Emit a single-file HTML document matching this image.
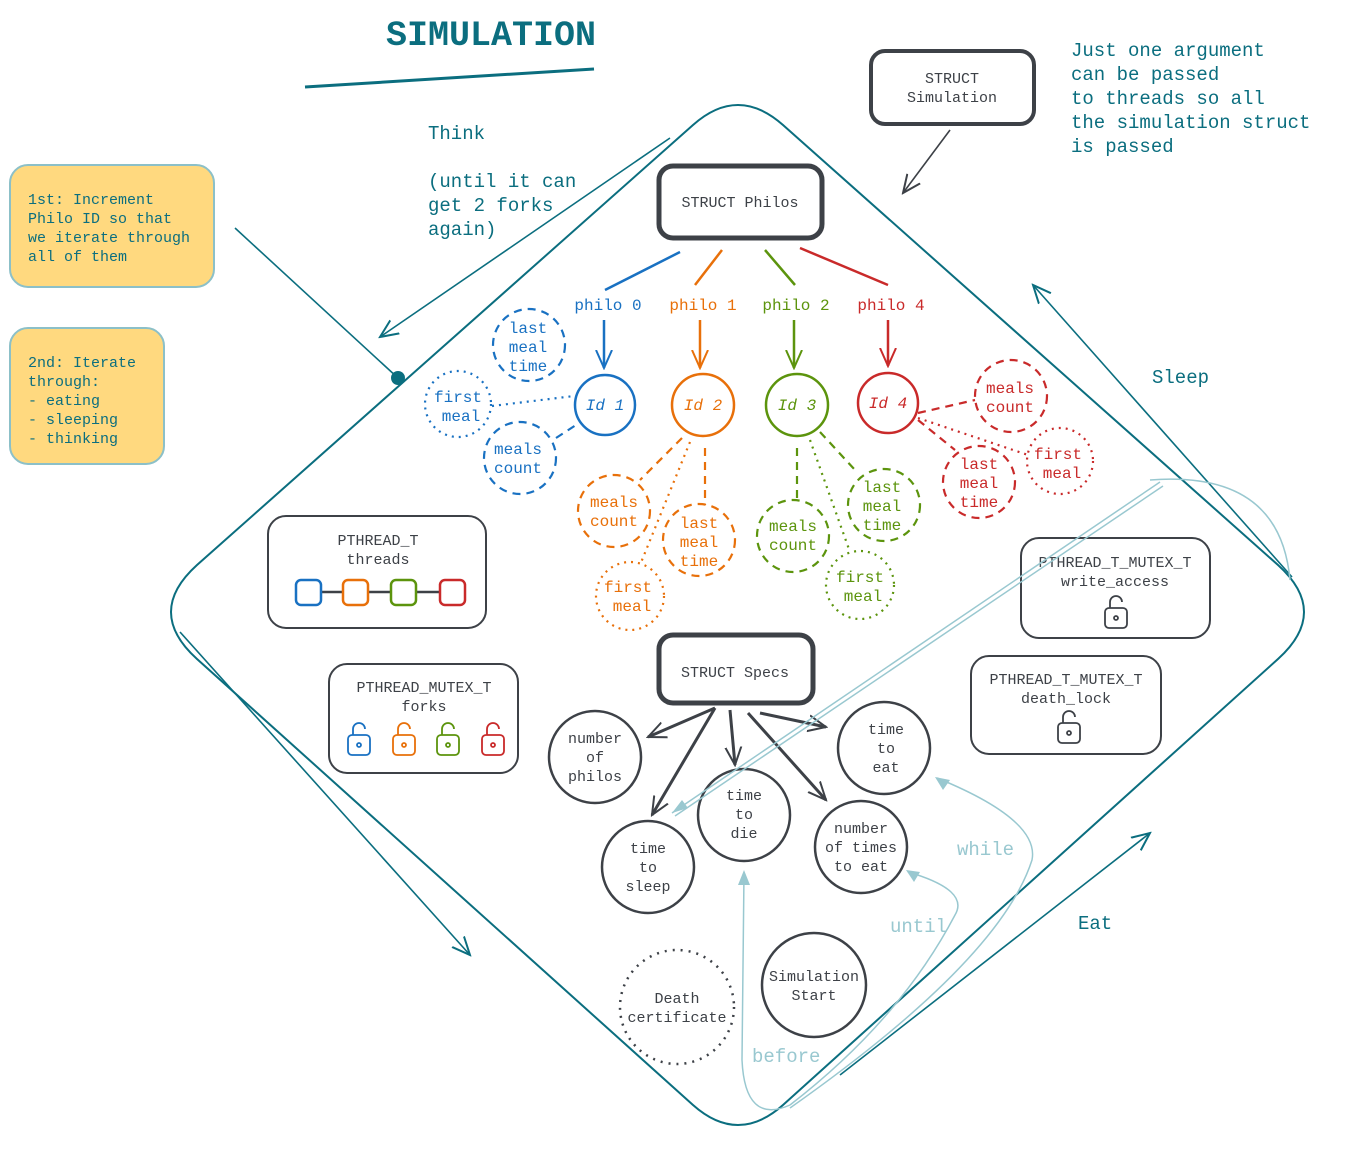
<!DOCTYPE html>
<html><head><meta charset="utf-8"><style>
html,body{margin:0;padding:0;background:#fff}
svg{display:block}
text{font-family:"Liberation Mono","DejaVu Sans Mono",monospace}
</style></head><body>
<svg width="1350" height="1165" viewBox="0 0 1350 1165" xmlns="http://www.w3.org/2000/svg">
<defs>
<marker id="ah" viewBox="0 0 20 20" refX="18" refY="10" markerWidth="20" markerHeight="20" markerUnits="userSpaceOnUse" orient="auto"><path d="M0,2 L18,10 L0,18" fill="none" stroke="context-stroke" stroke-width="2"/></marker>
</defs>
<rect width="1350" height="1165" fill="#fff"/>
<text x="491" y="45" font-size="35" font-weight="bold" fill="#0b6e7f" text-anchor="middle">SIMULATION</text>
<line x1="305" y1="87" x2="594" y2="69" stroke="#0b6e7f" stroke-width="3"/>
<path d="M693,125 Q738,85 783,125 L1278,565 Q1330,612 1278,659 L783,1105 Q738,1145 693,1105 L197,659 Q145,612 197,565 Z" fill="none" stroke="#0b6e7f" stroke-width="2"/>
<g stroke="#0b6e7f" stroke-width="1.6" fill="none">
<path d="M670,138 L380,337" marker-end="url(#ah)"/>
<path d="M235,228 L398,378"/>
<path d="M180,632 L470,955" marker-end="url(#ah)"/>
<path d="M840,1075 L1150,833" marker-end="url(#ah)"/>
<path d="M1292,577 L1033,285" marker-end="url(#ah)"/>
<path d="M950,130 L903,193" stroke="#3d4147" marker-end="url(#ah)"/>
</g>
<circle cx="398" cy="378" r="7" fill="#0b6e7f"/>
<g fill="#0b6e7f" font-size="19">
<text x="428" y="139">Think</text>
<text x="428" y="187">(until it can</text>
<text x="428" y="211">get 2 forks</text>
<text x="428" y="235">again)</text>
<text x="1071" y="56">Just one argument</text>
<text x="1071" y="80">can be passed</text>
<text x="1071" y="104">to threads so all</text>
<text x="1071" y="128">the simulation struct</text>
<text x="1071" y="152">is passed</text>
<text x="1152" y="383">Sleep</text>
<text x="1078" y="929">Eat</text>
</g>
<rect x="10" y="165" width="204" height="122" rx="18" fill="#ffd97f" stroke="#8cc0c8" stroke-width="2"/>
<g fill="#0b6e7f" font-size="15"><text x="28" y="204">1st: Increment</text><text x="28" y="223">Philo ID so that</text><text x="28" y="242">we iterate through</text><text x="28" y="261">all of them</text></g>
<rect x="10" y="328" width="154" height="136" rx="18" fill="#ffd97f" stroke="#8cc0c8" stroke-width="2"/>
<g fill="#0b6e7f" font-size="15"><text x="28" y="367">2nd: Iterate</text><text x="28" y="386">through:</text><text x="28" y="405">- eating</text><text x="28" y="424">- sleeping</text><text x="28" y="443">- thinking</text></g>
<g fill="none" stroke="#3d4147">
<rect x="871" y="51" width="163" height="73" rx="14" stroke-width="4"/>
<rect x="659" y="166" width="163" height="72" rx="14" stroke-width="5"/>
<rect x="659" y="635" width="154" height="68" rx="14" stroke-width="5"/>
<rect x="268" y="516" width="218" height="112" rx="18" stroke-width="2"/>
<rect x="329" y="664" width="189" height="109" rx="18" stroke-width="2"/>
<rect x="1021" y="538" width="189" height="100" rx="18" stroke-width="2"/>
<rect x="971" y="656" width="190" height="98" rx="18" stroke-width="2"/>
</g>
<g fill="#3d4147" font-size="15" text-anchor="middle">
<text x="952" y="83">STRUCT</text><text x="952" y="102">Simulation</text>
<text x="740" y="207">STRUCT Philos</text>
<text x="735" y="677">STRUCT Specs</text>
<text x="378" y="545">PTHREAD_T</text><text x="378" y="564">threads</text>
<text x="424" y="692">PTHREAD_MUTEX_T</text><text x="424" y="711">forks</text>
<text x="1115" y="567">PTHREAD_T_MUTEX_T</text><text x="1115" y="586">write_access</text>
<text x="1066" y="684">PTHREAD_T_MUTEX_T</text><text x="1066" y="703">death_lock</text>
</g>
<g fill="none" stroke-width="2.5">
<line x1="320" y1="592" x2="440" y2="592" stroke="#3d4147"/>
<rect x="296" y="580" width="25" height="25" rx="5" stroke="#1971c2" fill="#fff"/>
<rect x="343" y="580" width="25" height="25" rx="5" stroke="#e8700a" fill="#fff"/>
<rect x="391" y="580" width="25" height="25" rx="5" stroke="#5c940d" fill="#fff"/>
<rect x="440" y="580" width="25" height="25" rx="5" stroke="#c92a2a" fill="#fff"/>
</g>
<g fill="none" stroke-width="1.8">
<g stroke="#1971c2"><rect x="348" y="735" width="22" height="20" rx="4"/><path d="M353,735 v-6 a6,6 0 0 1 12,0"/><circle cx="359" cy="745" r="2"/></g>
<g stroke="#e8700a"><rect x="393" y="735" width="22" height="20" rx="4"/><path d="M398,735 v-6 a6,6 0 0 1 12,0"/><circle cx="404" cy="745" r="2"/></g>
<g stroke="#5c940d"><rect x="437" y="735" width="22" height="20" rx="4"/><path d="M442,735 v-6 a6,6 0 0 1 12,0"/><circle cx="448" cy="745" r="2"/></g>
<g stroke="#c92a2a"><rect x="482" y="735" width="22" height="20" rx="4"/><path d="M487,735 v-6 a6,6 0 0 1 12,0"/><circle cx="493" cy="745" r="2"/></g>
<g stroke="#3d4147"><rect x="1105" y="608" width="22" height="20" rx="4"/><path d="M1110,608 v-6 a6,6 0 0 1 12,0"/><circle cx="1116" cy="618" r="2"/></g>
<g stroke="#3d4147"><rect x="1058" y="723" width="22" height="20" rx="4"/><path d="M1063,723 v-6 a6,6 0 0 1 12,0"/><circle cx="1069" cy="733" r="2"/></g>
</g>
<g stroke-width="2.5" fill="none">
<line x1="680" y1="252" x2="605" y2="290" stroke="#1971c2"/>
<line x1="722" y1="250" x2="695" y2="285" stroke="#e8700a"/>
<line x1="765" y1="250" x2="795" y2="285" stroke="#5c940d"/>
<line x1="800" y1="248" x2="888" y2="285" stroke="#c92a2a"/>
<path d="M604,320 V368" stroke="#1971c2" marker-end="url(#ah)"/>
<path d="M700,320 V368" stroke="#e8700a" marker-end="url(#ah)"/>
<path d="M794,320 V368" stroke="#5c940d" marker-end="url(#ah)"/>
<path d="M888,320 V366" stroke="#c92a2a" marker-end="url(#ah)"/>
</g>
<g font-size="16" text-anchor="middle">
<text x="608" y="310" fill="#1971c2">philo 0</text>
<text x="703" y="310" fill="#e8700a">philo 1</text>
<text x="796" y="310" fill="#5c940d">philo 2</text>
<text x="891" y="310" fill="#c92a2a">philo 4</text>
</g>
<g stroke-width="2.5" fill="none">
<circle cx="605" cy="405" r="30" stroke="#1971c2"/>
<circle cx="703" cy="405" r="31" stroke="#e8700a"/>
<circle cx="797" cy="405" r="31" stroke="#5c940d"/>
<circle cx="888" cy="403" r="30" stroke="#c92a2a"/>
</g>
<g font-size="16" font-style="italic" text-anchor="middle">
<text x="605" y="410" fill="#1971c2">Id 1</text>
<text x="703" y="410" fill="#e8700a">Id 2</text>
<text x="797" y="410" fill="#5c940d">Id 3</text>
<text x="888" y="408" fill="#c92a2a">Id 4</text>
</g>
<g fill="none" stroke-width="2.2">
<g stroke="#1971c2">
<circle cx="529" cy="345" r="36" stroke-dasharray="8 6"/>
<circle cx="458" cy="404" r="33" stroke-dasharray="2 5"/>
<circle cx="520" cy="458" r="36" stroke-dasharray="8 6"/>
<line x1="492" y1="406" x2="574" y2="396" stroke-dasharray="2 5"/>
<line x1="556" y1="438" x2="576" y2="425" stroke-dasharray="8 6"/>
</g>
<g stroke="#e8700a">
<circle cx="614" cy="511" r="36" stroke-dasharray="8 6"/>
<circle cx="699" cy="540" r="36" stroke-dasharray="8 6"/>
<circle cx="630" cy="596" r="34" stroke-dasharray="2 5"/>
<line x1="682" y1="438" x2="640" y2="480" stroke-dasharray="8 6"/>
<line x1="705" y1="448" x2="705" y2="505" stroke-dasharray="8 6"/>
<line x1="690" y1="442" x2="640" y2="565" stroke-dasharray="2 5"/>
</g>
<g stroke="#5c940d">
<circle cx="793" cy="536" r="36" stroke-dasharray="8 6"/>
<circle cx="884" cy="505" r="36" stroke-dasharray="8 6"/>
<circle cx="860" cy="585" r="34" stroke-dasharray="2 5"/>
<line x1="797" y1="448" x2="797" y2="500" stroke-dasharray="8 6"/>
<line x1="820" y1="432" x2="855" y2="470" stroke-dasharray="8 6"/>
<line x1="810" y1="440" x2="850" y2="552" stroke-dasharray="2 5"/>
</g>
<g stroke="#c92a2a">
<circle cx="1011" cy="396" r="36" stroke-dasharray="8 6"/>
<circle cx="979" cy="482" r="36" stroke-dasharray="8 6"/>
<circle cx="1060" cy="461" r="33" stroke-dasharray="2 5"/>
<line x1="918" y1="413" x2="975" y2="400" stroke-dasharray="8 6"/>
<line x1="918" y1="420" x2="955" y2="450" stroke-dasharray="8 6"/>
<line x1="918" y1="418" x2="1028" y2="455" stroke-dasharray="2 5"/>
</g>
</g>
<g font-size="16" text-anchor="middle">
<g fill="#1971c2"><text x="528" y="333">last</text><text x="528" y="352">meal</text><text x="528" y="371">time</text>
<text x="458" y="402">first</text><text x="461" y="421">meal</text>
<text x="518" y="454">meals</text><text x="518" y="473">count</text></g>
<g fill="#e8700a"><text x="614" y="507">meals</text><text x="614" y="526">count</text>
<text x="699" y="528">last</text><text x="699" y="547">meal</text><text x="699" y="566">time</text>
<text x="628" y="592">first</text><text x="632" y="611">meal</text></g>
<g fill="#5c940d"><text x="793" y="531">meals</text><text x="793" y="550">count</text>
<text x="882" y="492">last</text><text x="882" y="511">meal</text><text x="882" y="530">time</text>
<text x="860" y="582">first</text><text x="863" y="601">meal</text></g>
<g fill="#c92a2a"><text x="1010" y="393">meals</text><text x="1010" y="412">count</text>
<text x="979" y="469">last</text><text x="979" y="488">meal</text><text x="979" y="507">time</text>
<text x="1058" y="459">first</text><text x="1062" y="478">meal</text></g>
</g>
<g stroke="#3d4147" stroke-width="3" fill="none">
<path d="M715,708 L648,737" marker-end="url(#ah)"/>
<path d="M715,708 L652,815" marker-end="url(#ah)"/>
<path d="M730,710 L735,765" marker-end="url(#ah)"/>
<path d="M748,713 L826,800" marker-end="url(#ah)"/>
<path d="M760,713 L826,727" marker-end="url(#ah)"/>
</g>
<g fill="none" stroke="#3d4147" stroke-width="2.5">
<circle cx="595" cy="757" r="46"/>
<circle cx="884" cy="748" r="46"/>
<circle cx="744" cy="815" r="46"/>
<circle cx="648" cy="867" r="46"/>
<circle cx="861" cy="847" r="46"/>
<circle cx="814" cy="985" r="52"/>
<circle cx="677" cy="1007" r="57" stroke-dasharray="2 6"/>
</g>
<g fill="#3d4147" font-size="15" text-anchor="middle">
<text x="595" y="743">number</text><text x="595" y="762">of</text><text x="595" y="781">philos</text>
<text x="886" y="734">time</text><text x="886" y="753">to</text><text x="886" y="772">eat</text>
<text x="744" y="800">time</text><text x="744" y="819">to</text><text x="744" y="838">die</text>
<text x="648" y="853">time</text><text x="648" y="872">to</text><text x="648" y="891">sleep</text>
<text x="861" y="833">number</text><text x="861" y="852">of times</text><text x="861" y="871">to eat</text>
<text x="814" y="981">Simulation</text><text x="814" y="1000">Start</text>
<text x="677" y="1003">Death</text><text x="677" y="1022">certificate</text>
</g>
<g stroke="#99c8d0" stroke-width="1.5" fill="none">
<path d="M1160,482 L672,813"/><path d="M1163,486 L675,816"/>
<path d="M1150,480 Q1280,470 1290,580"/>
<path d="M790,1105 Q745,1125 742,1060 L744,873"/>
<path d="M790,1105 Q900,1020 955,915 Q970,890 908,872"/>
<path d="M790,1108 Q1000,960 1032,860 Q1040,820 937,778"/>
</g>
<g fill="#99c8d0">
<path d="M672,813 L682,800 L688,808 Z"/>
<path d="M744,870 L738,885 L750,885 Z"/>
<path d="M906,870 L920,872 L914,882 Z"/>
<path d="M935,777 L950,780 L943,790 Z"/>
</g>
<g fill="#99c8d0" font-size="19">
<text x="957" y="855">while</text>
<text x="890" y="932">until</text>
<text x="752" y="1062">before</text>
</g>
</svg>
</body></html>
